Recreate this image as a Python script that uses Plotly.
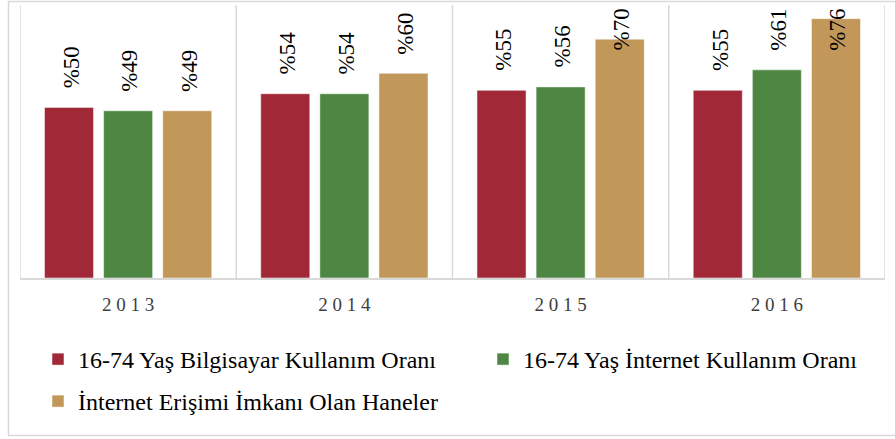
import plotly.graph_objects as go

years = ["2013", "2014", "2015", "2016"]
bilgisayar = [50, 54, 55, 55]
internet = [49, 54, 56, 61]
haneler = [49, 60, 70, 76]

series_names = [
    "16-74 Yaş Bilgisayar Kullanım Oranı",
    "16-74 Yaş İnternet Kullanım Oranı",
    "İnternet Erişimi İmkanı Olan Haneler",
]
colors = ["#A12937", "#4E8744", "#C1975A"]
series_values = [bilgisayar, internet, haneler]
legend_ids = ["legend", "legend2", "legend3"]

FONT = "Liberation Serif, Times New Roman, serif"

W, H = 895, 439
ML, MR, MT, MB = 20, 10, 5, 161
plot_w = W - ML - MR
plot_h = H - MT - MB
YMAX = 80
BARGAP = 0.18
GROUPGAP = 0.17

fig = go.Figure()
for name, vals, col, lg in zip(series_names, series_values, colors, legend_ids):
    fig.add_trace(go.Bar(
        x=years, y=vals, name=name, legend=lg, showlegend=True,
        marker=dict(color=col, line=dict(color="rgba(255,255,255,0.5)", width=1)),
    ))

# data labels (rotated), placed above bars, kept inside the plot area
cat_w = plot_w / len(years)
slot = cat_w * (1 - BARGAP) / 3
annotations = []
for j, vals in enumerate(series_values):
    for i, v in enumerate(vals):
        annotations.append(dict(
            x=i, y=min(v + 5, 66), xref="x", yref="y",
            xshift=(j - 1) * slot + 2,
            text=f"%{v}", textangle=-90, showarrow=False,
            yanchor="bottom", xanchor="center",
            font=dict(family=FONT, size=23, color="#000000"),
        ))

# category boundary lines
shapes = []
for i in range(len(years) + 1):
    shapes.append(dict(
        type="line", xref="x", yref="paper", x0=i - 0.5, x1=i - 0.5, y0=0, y1=1,
        line=dict(color="#D9D9D9", width=1.5), layer="below",
    ))
shapes.append(dict(
    type="rect", xref="paper", yref="paper",
    x0=(8.5 - ML) / plot_w, x1=(900 - ML) / plot_w,
    y0=(MT + plot_h - 435.5) / plot_h, y1=(MT + plot_h - 1.5) / plot_h,
    line=dict(color="#D9D9D9", width=1.5), layer="below",
))

leg_font = dict(family=FONT, size=24, color="#000000")
def leg(xpx, ypx):
    return dict(
        orientation="h", x=(xpx - ML) / plot_w, y=(MT + plot_h - ypx) / plot_h,
        xanchor="left", yanchor="top", font=leg_font, bgcolor="rgba(0,0,0,0)",
    )

fig.update_layout(
    width=W, height=H,
    margin=dict(l=ML, r=MR, t=MT, b=MB, autoexpand=False),
    paper_bgcolor="white", plot_bgcolor="white",
    barmode="group", bargap=BARGAP, bargroupgap=GROUPGAP,
    annotations=annotations,
    shapes=shapes,
    font=dict(family=FONT),
    showlegend=True,
    legend=leg(38, 337),
    legend2=leg(483, 337),
    legend3=leg(38, 379),
    xaxis=dict(
        type="category",
        tickmode="array", tickvals=years, ticktext=[" ".join(y) for y in years],
        showgrid=False, showline=True, linecolor="#D9D9D9", linewidth=1.5,
        ticks="outside", ticklen=8, tickcolor="rgba(0,0,0,0)",
        tickfont=dict(family=FONT, size=19, color="#404040"),
        range=[-0.5, len(years) - 0.5],
    ),
    yaxis=dict(range=[0, YMAX], visible=False, showgrid=False, zeroline=False),
)

fig.write_html(
    "out.html",
    config={"displayModeBar": False},
    post_script="document.body.style.margin='0';",
)
